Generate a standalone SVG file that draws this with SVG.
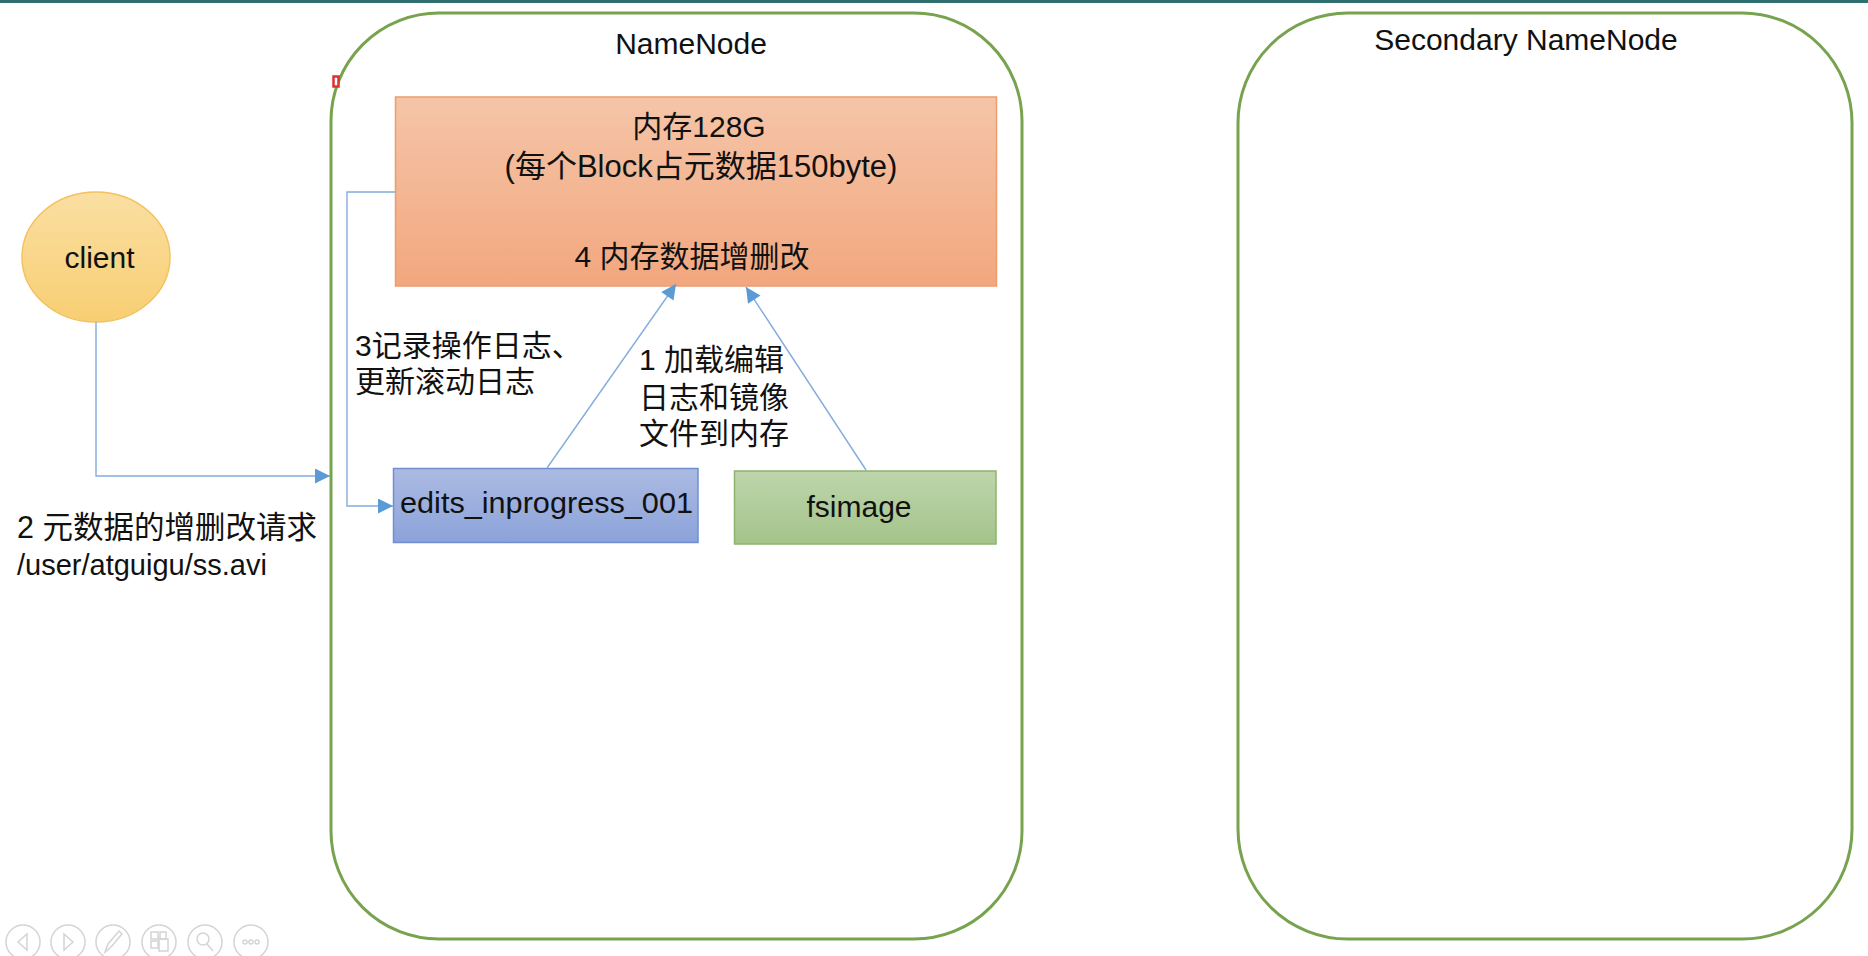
<svg xmlns="http://www.w3.org/2000/svg" width="1868" height="956" viewBox="0 0 1868 956">
<style>
  text { font-family: "Liberation Sans", "Noto Sans CJK SC", sans-serif; fill: #111; }
  .t30 { font-size: 30px; }
  .mid { text-anchor: middle; }
  .container { fill: #ffffff; stroke: #77A34F; stroke-width: 3; }
  .conn { fill: none; stroke: #84ACDC; stroke-width: 1.4; }
  .nav { fill: none; stroke: #D4D4D4; stroke-width: 1.5; }
</style>
<defs>
  <marker id="arr" viewBox="0 0 10 10" refX="10" refY="5" markerWidth="17" markerHeight="15" markerUnits="userSpaceOnUse" orient="auto">
    <path d="M0,0 L10,5 L0,10 z" fill="#5B9BD5"/>
  </marker>
  <linearGradient id="gOrange" x1="0" y1="0" x2="0" y2="1">
    <stop offset="0" stop-color="#F5C5A8"/>
    <stop offset="1" stop-color="#F2A77E"/>
  </linearGradient>
  <linearGradient id="gBlue" x1="0" y1="0" x2="0" y2="1">
    <stop offset="0" stop-color="#ABBAE2"/>
    <stop offset="1" stop-color="#8CA3DA"/>
  </linearGradient>
  <linearGradient id="gGreen" x1="0" y1="0" x2="0" y2="1">
    <stop offset="0" stop-color="#BED5AB"/>
    <stop offset="1" stop-color="#A4C48B"/>
  </linearGradient>
  <linearGradient id="gYellow" x1="0" y1="0" x2="0" y2="1">
    <stop offset="0" stop-color="#FADFA2"/>
    <stop offset="1" stop-color="#F8CE72"/>
  </linearGradient>
</defs>

<rect x="0" y="0" width="1868" height="956" fill="#ffffff"/>
<rect x="0" y="0" width="1868" height="3" fill="#2F6F6F"/>

<g id="namenode">
  <rect class="container" x="331" y="13" width="691" height="926" rx="108" ry="108"/>
  <text class="t30 mid" x="691" y="54">NameNode</text>
</g>

<g id="secondary-namenode">
  <rect class="container" x="1238" y="13" width="614" height="926" rx="110" ry="110"/>
  <text class="t30 mid" x="1526" y="50">Secondary NameNode</text>
</g>

<g id="marker-red">
  <rect x="333.5" y="76.5" width="5" height="10" fill="#ffffff" stroke="#E03131" stroke-width="2.5"/>
</g>

<g id="memory">
  <rect x="395.5" y="97" width="601" height="189" fill="url(#gOrange)" stroke="#EE9C6C" stroke-width="1.5"/>
  <text class="t30 mid" x="699" y="137">内存128G</text>
  <text class="mid" x="701" y="177" style="font-size:31px">(每个Block占元数据150byte)</text>
  <text class="t30 mid" x="692" y="267">4 内存数据增删改</text>
</g>

<g id="client">
  <ellipse cx="96" cy="257" rx="74" ry="65" fill="url(#gYellow)" stroke="#F3C25E" stroke-width="1.5"/>
  <text class="t30 mid" x="99.5" y="268">client</text>
</g>

<g id="edits">
  <rect x="393.5" y="468.5" width="304.5" height="74" fill="url(#gBlue)" stroke="#6F8FD2" stroke-width="1.5"/>
  <text class="t30" x="400" y="513" textLength="293" lengthAdjust="spacingAndGlyphs">edits_inprogress_001</text>
</g>

<g id="fsimage">
  <rect x="734.5" y="471" width="261.5" height="73" fill="url(#gGreen)" stroke="#8DB46E" stroke-width="1.5"/>
  <text class="t30 mid" x="859" y="517">fsimage</text>
</g>

<g id="connectors">
  <path class="conn" d="M96,322 V476 H330" marker-end="url(#arr)"/>
  <path class="conn" d="M395,192 H347 V506 H393" marker-end="url(#arr)"/>
  <path class="conn" d="M547,468 L676,284" marker-end="url(#arr)"/>
  <path class="conn" d="M866,470 L746,287" marker-end="url(#arr)"/>
</g>

<g id="labels">
  <text class="t30" x="355" y="356">3记录操作日志、</text>
  <text class="t30" x="355" y="392">更新滚动日志</text>
  <text class="t30" x="639" y="370">1 加载编辑</text>
  <text class="t30" x="639" y="408">日志和镜像</text>
  <text class="t30" x="639" y="444">文件到内存</text>
  <text x="17" y="538" style="font-size:30.5px">2 元数据的增删改请求</text>
  <text x="17" y="575" style="font-size:29px">/user/atguigu/ss.avi</text>
</g>

<g id="nav-controls">
  <circle class="nav" cx="23" cy="942" r="17"/>
  <path class="nav" d="M27,934 L18,942 L27,950 Z"/>
  <circle class="nav" cx="68" cy="942" r="17"/>
  <path class="nav" d="M64,934 L73,942 L64,950 Z"/>
  <circle class="nav" cx="113" cy="942" r="17"/>
  <path class="nav" d="M105,952 L108,944 L119,931 L122,934 L111,947 Z"/>
  <circle class="nav" cx="159" cy="942" r="17"/>
  <rect class="nav" x="151" y="932" width="7" height="7"/>
  <rect class="nav" x="160" y="932" width="6" height="7"/>
  <rect class="nav" x="151" y="941" width="7" height="7"/>
  <rect class="nav" x="159" y="939" width="9" height="12"/>
  <circle class="nav" cx="205" cy="942" r="17"/>
  <circle class="nav" cx="203" cy="939" r="6"/>
  <path class="nav" d="M207,944 L213,951"/>
  <circle class="nav" cx="251" cy="942" r="17"/>
  <circle class="nav" cx="245" cy="942" r="2"/>
  <circle class="nav" cx="251" cy="942" r="2"/>
  <circle class="nav" cx="257" cy="942" r="2"/>
</g>
</svg>
